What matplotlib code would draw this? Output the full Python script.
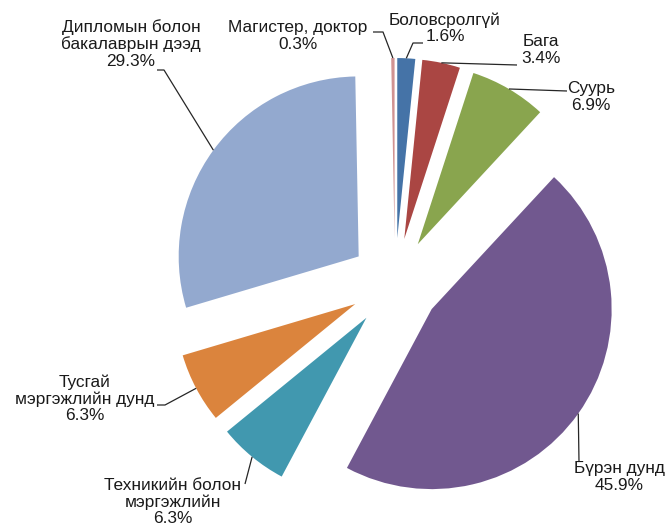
import numpy as np
import matplotlib.pyplot as plt

plt.rcParams['font.family'] = ['Liberation Sans', 'DejaVu Sans']

# Datos del gráfico
categorias = ['Боловсролгүй', 'Бага', 'Суурь', 'Бүрэн дунд',
              'Техникийн болон\nмэргэжлийн', 'Тусгай\nмэргэжлийн дунд',
              'Дипломын болон\nбакалаврын дээд', 'Магистер, доктор']
porcentajes = [1.6, 3.4, 6.9, 45.9, 6.3, 6.3, 29.3, 0.3]
colores = ['#4573A7', '#AA4643', '#89A54E', '#71588F',
           '#4198AF', '#DB843D', '#93A9CF', '#D19392']

# Posición de las etiquetas (en píxeles, y desde arriba) y codo de la línea guía
pos_texto = [(445, 28), (541, 50), (591, 97), (619, 477),
             (173, 502), (85, 399), (131, 44), (298, 36)]
codo = [(413, 43), (517, 65), (567, 91), (579, 462),
        (245, 484), (165, 405), (164, 70), (383, 32)]
fin = [(423, 43), (517, 65), (567, 91), (579, 462),
       (245, 484), (157, 405), (157, 70), (373, 32)]

W, H = 667, 524
fig = plt.figure(figsize=(W / 100, H / 100), dpi=100)
ax = fig.add_axes([0, 0, 1, 1])

radio = 180
centro = (395, H - 283)
separacion = [45] * len(porcentajes)   # explode va en unidades de datos

wedges, _ = ax.pie(porcentajes, colors=colores, startangle=90, counterclock=False,
                   explode=separacion, radius=radio, center=centro,
                   wedgeprops=dict(linewidth=0))

ax.set_xlim(0, W)
ax.set_ylim(0, H)
ax.set_aspect('equal')
ax.axis('off')

# Etiquetas con línea guía desde el punto medio del arco
for w, cat, p, (tx, ty), (cx, cy), (fx, fy) in zip(wedges, categorias, porcentajes,
                                                    pos_texto, codo, fin):
    ang = np.deg2rad((w.theta1 + w.theta2) / 2)
    x0 = w.center[0] + w.r * np.cos(ang)
    y0 = w.center[1] + w.r * np.sin(ang)
    ax.plot([x0, cx, fx], [y0, H - cy, H - fy], color='#262626', lw=0.9,
            solid_capstyle='butt')
    ax.text(tx, H - ty, '%s\n%.1f%%' % (cat, p), ha='center', va='center',
            fontsize=12.4, color='#1a1a1a', linespacing=1.1)

fig.savefig('out.png', dpi=100)
